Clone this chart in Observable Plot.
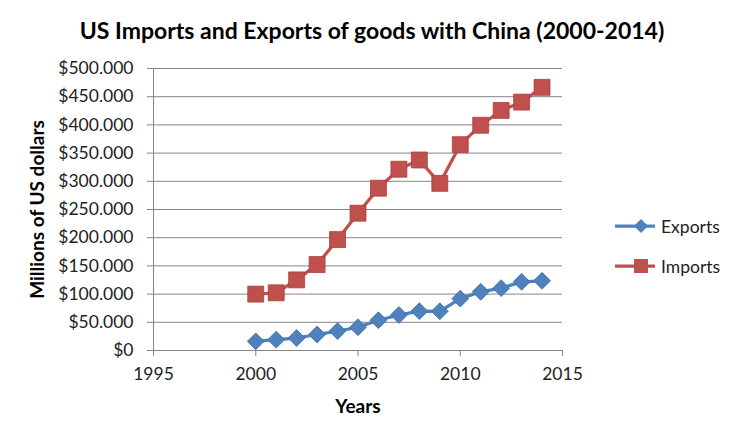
<!DOCTYPE html>
<html>
<head>
<meta charset="utf-8">
<script src="https://cdn.jsdelivr.net/npm/d3@7"></script>
<script src="https://cdn.jsdelivr.net/npm/@observablehq/plot@0.6"></script>
<style>
  body { margin: 0; background: #fff; font-family: Lato, sans-serif; }
  #wrap { position: relative; width: 744px; height: 441px; overflow: hidden; }
  #title { height: 50px; font: bold 23px Lato, sans-serif; line-height: 60px; text-align: center; color: #000; white-space: nowrap; }
  .legend { position: absolute; left: 614px; font: 17.5px Lato, sans-serif; color: #222; display: flex; align-items: center; }
  .legend svg { margin-right: 5px; }
</style>
</head>
<body>
<div id="wrap">
  <div id="title">US Imports and Exports of goods with China (2000-2014)</div>
  <div id="chart"></div>
  <div id="legend"></div>
</div>
<script>
const years = [2000, 2001, 2002, 2003, 2004, 2005, 2006, 2007, 2008, 2009, 2010, 2011, 2012, 2013, 2014];
const exportsVals = [16185, 19182, 22128, 28368, 34428, 41192, 53673, 62937, 69733, 69497, 91911, 104122, 110517, 121746, 123657];
const importsVals = [100018, 102278, 125193, 152436, 196682, 243470, 287774, 321443, 337773, 296374, 364953, 399371, 425619, 440430, 466656];
const seriesNames = ["Exports", "Imports"];
const seriesColors = ["#4F81BD", "#C0504D"];
const xTicks = [1995, 2000, 2005, 2010, 2015];
const yTicks = [0, 50000, 100000, 150000, 200000, 250000, 300000, 350000, 400000, 450000, 500000];

const data = [
  ...years.map((y, i) => ({year: y, value: exportsVals[i], series: "Exports"})),
  ...years.map((y, i) => ({year: y, value: importsVals[i], series: "Imports"}))
];

const loc = d3.formatLocale({decimal: ",", thousands: ".", grouping: [3], currency: ["$", ""]});
const fmt = loc.format("$,");

const grid = "#868686";
const exp = data.filter(d => d.series === "Exports");
const imp = data.filter(d => d.series === "Imports");

const chart = Plot.plot({
  width: 744,
  height: 391,
  marginLeft: 153,
  marginRight: 182,
  marginTop: 18,
  marginBottom: 91,
  style: {fontFamily: "Lato, sans-serif", fontSize: "17px", color: "#222", background: "#fff"},
  x: {domain: [1995, 2015], ticks: xTicks, tickFormat: d => String(d)},
  y: {domain: [0, 500000], ticks: yTicks, tickFormat: fmt},
  marks: [
    Plot.gridY(yTicks, {stroke: grid, strokeOpacity: 1, strokeWidth: 1}),
    Plot.ruleX([1995], {stroke: grid, strokeWidth: 1}),
    Plot.ruleY([0], {stroke: grid, strokeWidth: 1}),
    Plot.axisY(yTicks, {tickFormat: fmt, tickSize: 6, tickPadding: 14, stroke: grid, label: null, fontSize: 17.5}),
    Plot.axisX(xTicks, {tickFormat: d => String(d), tickSize: 6, tickPadding: 11, stroke: grid, label: null, fontSize: 17.5}),
    Plot.text(["Millions of US dollars"], {frameAnchor: "left", dx: -116, rotate: -90, textAnchor: "middle", fontWeight: "bold", fontSize: 19, fill: "#000"}),
    Plot.text(["Years"], {frameAnchor: "bottom", dy: 62, fontWeight: "bold", fontSize: 19, fill: "#000"}),
    Plot.line(exp, {x: "year", y: "value", stroke: seriesColors[0], strokeWidth: 3.25}),
    Plot.line(imp, {x: "year", y: "value", stroke: seriesColors[1], strokeWidth: 3.25}),
    Plot.dot(exp, {x: "year", y: "value", symbol: "diamond2", r: 7.6, fill: seriesColors[0], stroke: "#3f6fa8", strokeWidth: 0.8}),
    Plot.dot(imp, {x: "year", y: "value", symbol: "square", r: 9, fill: seriesColors[1], stroke: "#a8413e", strokeWidth: 0.8})
  ]
});
document.getElementById("chart").appendChild(chart);

// legend
const legend = document.getElementById("legend");
const legTops = [215, 255];
seriesNames.forEach((name, i) => {
  const div = document.createElement("div");
  div.className = "legend";
  div.style.top = legTops[i] + "px";
  const marker = i === 0
    ? `<path d="M27,4 L34,11 L27,18 L20,11 Z" fill="${seriesColors[0]}"/>`
    : `<rect x="20" y="4" width="14" height="14" fill="${seriesColors[1]}"/>`;
  div.innerHTML = `<svg width="42" height="22"><line x1="1" x2="41" y1="11" y2="11" stroke="${seriesColors[i]}" stroke-width="3.25"/>${marker}</svg><span>${name}</span>`;
  legend.appendChild(div);
});
</script>
</body>
</html>
